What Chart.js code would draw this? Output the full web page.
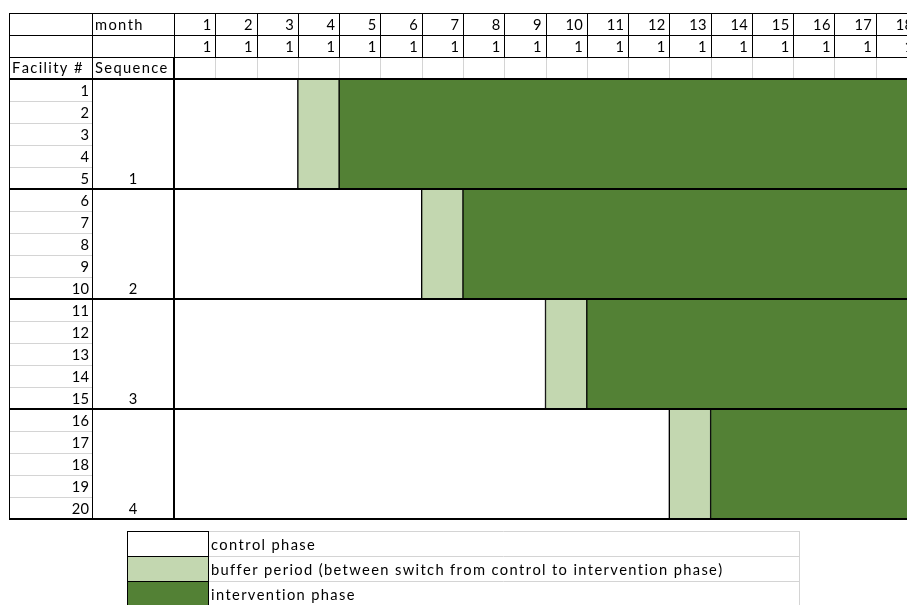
<!DOCTYPE html>
<html>
<head>
<meta charset="utf-8">
<script src="https://cdn.jsdelivr.net/npm/chart.js@4.4.0/dist/chart.umd.min.js"></script>
<style>
  html, body { margin: 0; padding: 0; overflow: hidden; background: #fff; }
  #wrap { width: 917px; height: 605px; }
</style>
</head>
<body>
<div id="wrap"><canvas id="c" width="917" height="605"></canvas></div>
<script>
// Study calendar
const months = [1, 2, 3, 4, 5, 6, 7, 8, 9, 10, 11, 12, 13, 14, 15, 16, 17, 18];
const monthWeights = [1, 1, 1, 1, 1, 1, 1, 1, 1, 1, 1, 1, 1, 1, 1, 1, 1, 1];
const facilities = [1, 2, 3, 4, 5, 6, 7, 8, 9, 10, 11, 12, 13, 14, 15, 16, 17, 18, 19, 20];
const sequences = ['1', '2', '3', '4'];

// Months spent in each phase, per sequence
const controlMonths = [3, 6, 9, 12];
const bufferMonths = [1, 1, 1, 1];
const interventionMonths = [14, 11, 8, 5];

const phaseLabels = [
  'control phase',
  'buffer period (between switch from control to intervention phase)',
  'intervention phase'
];

const COLORS = ['#ffffff', '#c3d7b0', '#538135'];
const FONT = '14.7px Lato';
const WORD_SPACING = 1.35;   // extra tracking for word labels
const GRID = '#d4d4d4';

function hLine(ctx, x1, x2, y, w, color) {
  ctx.save();
  ctx.strokeStyle = color; ctx.lineWidth = w;
  const yy = w % 2 ? Math.round(y) + 0.5 : Math.round(y);
  ctx.beginPath(); ctx.moveTo(x1, yy); ctx.lineTo(x2, yy); ctx.stroke();
  ctx.restore();
}
function vLine(ctx, x, y1, y2, w, color) {
  ctx.save();
  ctx.strokeStyle = color; ctx.lineWidth = w;
  const xx = w % 2 ? Math.round(x) + 0.5 : Math.round(x);
  ctx.beginPath(); ctx.moveTo(xx, y1); ctx.lineTo(xx, y2); ctx.stroke();
  ctx.restore();
}
// draws text glyph by glyph with extra tracking
function tracked(ctx, str, x, y, align, spacing) {
  const chars = Array.from(str);
  const widths = chars.map(c => ctx.measureText(c).width);
  const total = widths.reduce((s, w) => s + w, 0) + spacing * (chars.length - 1);
  let cx = align === 'right' ? x - total : align === 'center' ? x - total / 2 : x;
  ctx.save();
  ctx.textAlign = 'left';
  chars.forEach((c, i) => { ctx.fillText(c, cx, y); cx += widths[i] + spacing; });
  ctx.restore();
}

const tablePlugin = {
  id: 'designTable',
  beforeDraw(chart) {
    const ctx = chart.ctx;
    ctx.save();
    ctx.fillStyle = '#fff';
    ctx.fillRect(0, 0, chart.width, chart.height);
    ctx.restore();
  },
  afterDraw(chart) {
    const { ctx, chartArea: a } = chart;
    const x = chart.scales.x;
    const W = chart.width;
    const colA = 9, colB = 92, colC = x.getPixelForValue(0);
    const rowH = (a.bottom - a.top) / facilities.length;
    const perGroup = facilities.length / sequences.length;
    const h0 = a.top - 3 * rowH;

    ctx.save();
    ctx.font = FONT;
    ctx.fillStyle = '#000';
    ctx.textBaseline = 'alphabetic';

    // header grid
    months.forEach(m => {
      const xr = x.getPixelForValue(m);
      vLine(ctx, xr, h0, h0 + 2 * rowH, 1, '#000');
      vLine(ctx, xr, h0 + 2 * rowH, a.top, 1, GRID);
    });
    hLine(ctx, colA, W, h0, 1, '#000');
    hLine(ctx, colA, W, h0 + rowH, 1, '#000');
    hLine(ctx, colA, W, h0 + 2 * rowH, 1, '#000');

    // header texts
    tracked(ctx, 'month', colB + 3, h0 + rowH - 5, 'left', WORD_SPACING);
    tracked(ctx, 'Facility #', colA + 3, a.top - 6, 'left', WORD_SPACING);
    tracked(ctx, 'Sequence', colB + 3, a.top - 6, 'left', WORD_SPACING);
    months.forEach((m, i) => {
      const xr = x.getPixelForValue(m) - 4;
      tracked(ctx, String(m), xr, h0 + rowH - 5, 'right', 0.3);
      tracked(ctx, String(monthWeights[i]), xr, h0 + 2 * rowH - 5, 'right', 0.3);
    });

    // facility rows
    facilities.forEach((f, i) => {
      const yb = a.top + (i + 1) * rowH;
      if ((i + 1) % perGroup !== 0) hLine(ctx, colA + 1, colB, yb, 1, GRID);
      tracked(ctx, String(f), colB - 3, yb - 5, 'right', 0.3);
    });
    sequences.forEach((s, g) => {
      const yb = a.top + (g + 1) * perGroup * rowH;
      tracked(ctx, s, (colB + colC) / 2, yb - 5, 'center', 0);
    });

    // frame lines
    vLine(ctx, colA, h0, a.bottom + 1, 1, '#000');
    vLine(ctx, colB, h0, a.bottom + 1, 1, '#000');
    vLine(ctx, colC, h0, h0 + 2 * rowH, 1, '#000');
    vLine(ctx, colC, h0 + 2 * rowH, a.bottom + 1, 2, '#000');
    for (let g = 0; g <= sequences.length; g++) {
      hLine(ctx, colA, W, a.top + g * perGroup * rowH, 2, '#000');
    }

    // legend table
    const lx1 = 127, lx2 = 208, lx3 = 799;
    const lTop = a.bottom + 12, lRow = 25;
    phaseLabels.forEach((lab, i) => {
      const yt = lTop + i * lRow;
      ctx.fillStyle = COLORS[i];
      ctx.fillRect(lx1, yt, lx2 - lx1, lRow);
      hLine(ctx, lx2, lx3, yt, 1, GRID);
      ctx.fillStyle = '#000';
      tracked(ctx, lab, lx2 + 3, yt + lRow - 6, 'left', WORD_SPACING);
    });
    vLine(ctx, lx3, lTop, lTop + 3 * lRow, 1, GRID);
    for (let i = 0; i <= 3; i++) hLine(ctx, lx1, lx2, lTop + i * lRow, 1, '#000');
    vLine(ctx, lx1, lTop, lTop + 3 * lRow, 1, '#000');
    vLine(ctx, lx2, lTop, lTop + 3 * lRow, 1, '#000');
    ctx.restore();
  }
};

const barStyle = { borderColor: '#000', borderWidth: 1, borderSkipped: false, barPercentage: 1, categoryPercentage: 1 };

new Chart(document.getElementById('c'), {
  type: 'bar',
  data: {
    labels: sequences,
    datasets: [
      Object.assign({ label: phaseLabels[0], data: controlMonths, backgroundColor: COLORS[0] }, barStyle),
      Object.assign({ label: phaseLabels[1], data: bufferMonths, backgroundColor: COLORS[1] }, barStyle),
      Object.assign({ label: phaseLabels[2], data: interventionMonths, backgroundColor: COLORS[2] }, barStyle)
    ]
  },
  options: {
    indexAxis: 'y',
    responsive: false,
    animation: false,
    devicePixelRatio: 1,
    layout: { padding: { left: 174, right: 0, top: 79, bottom: 86 } },
    scales: {
      x: { type: 'linear', stacked: true, min: 0, max: 18, display: false },
      y: { type: 'category', stacked: true, display: false }
    },
    plugins: { legend: { display: false }, tooltip: { enabled: false } }
  },
  plugins: [tablePlugin]
});
</script>
</body>
</html>
